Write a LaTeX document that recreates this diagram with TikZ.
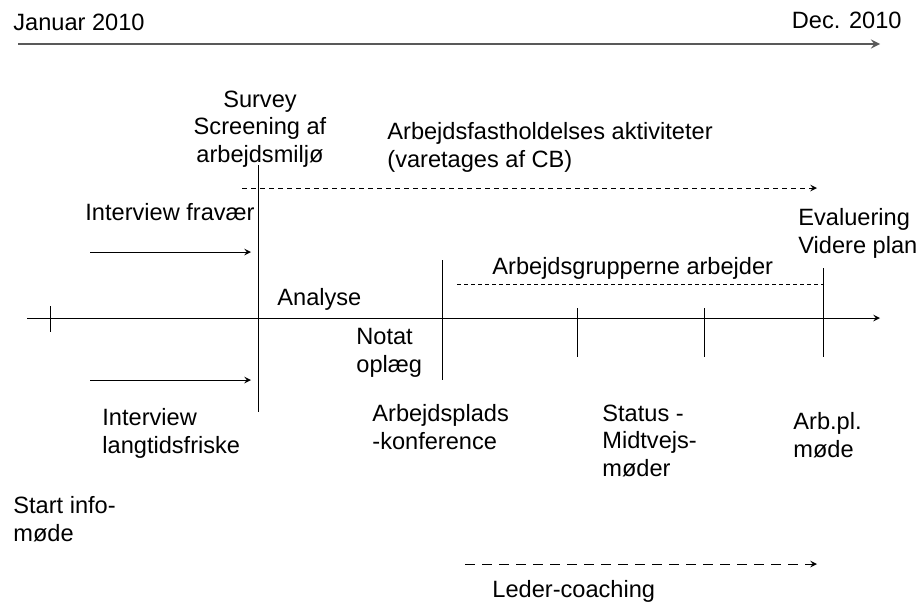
\documentclass[tikz,border=0pt]{standalone}
\usepackage{fontspec}
\setmainfont{Liberation Sans}
\definecolor{periodgray}{HTML}{595959}

\begin{document}
\begin{tikzpicture}[
    x=0.5pt, y=-0.5pt,
    >=stealth,
    every node/.style={font=\fontsize{11.8}{13.75}\selectfont, inner sep=0pt},
    lbl/.style={anchor=base west, align=left},
    marker/.style={line width=0.5pt},
    span/.style={->, line width=0.5pt},
    dashspan/.style={line width=0.5pt, dash pattern=on 2.5pt off 2pt}
]
    \useasboundingbox (0,0) rectangle (920,601);

    % Period
    \node[lbl] (jan) at (13,30) {Januar 2010};
    \node[anchor=base east] (dec) at (902,28) {Dec. 2010};
    \coordinate (per-start) at (18,44);
    \coordinate (per-end) at (880,44);
    \draw[->, periodgray, line width=1pt] (per-start) -- (per-end);

    % Timeline
    \coordinate (ax-start) at (27,318);
    \coordinate (ax-end) at (880,318);
    \draw[span] (ax-start) -- (ax-end);
    \draw[marker] (50,306) -- (50,332);
    \draw[marker] (258,165) -- (258,412);
    \draw[marker] (442,260) -- (442,380);
    \draw[marker] (577,308) -- (577,357);
    \draw[marker] (704,308) -- (704,357);
    \draw[marker] (823,268) -- (823,357);

    % Above the line (base = last line)
    \node[anchor=base, align=center] (survey) at (260,162) {Survey\\Screening af\\arbejdsmiljø};
    \node[lbl] (afh) at (387,167) {Arbejdsfastholdelses aktiviteter\\(varetages af CB)};
    \node[lbl] (fravaer) at (85,220) {Interview fravær};
    \node[lbl] (eval) at (798,253) {Evaluering\\Videre plan};
    \node[lbl] (grupper) at (492,274) {Arbejdsgrupperne arbejder};
    \node[lbl] (analyse) at (277,305) {Analyse};

    % Below the line
    \node[lbl] (notat) at (356,372) {Notat\\oplæg};
    \node[lbl] (langtid) at (102,453) {Interview\\langtidsfriske};
    \node[lbl] (konf) at (372,449) {Arbejdsplads\\-konference};
    \node[lbl] (status) at (602,476) {Status -\\Midtvejs-\\møder};
    \node[lbl] (arbpl) at (793,457) {Arb.pl.\\møde};
    \node[lbl] (startinfo) at (13,541) {Start info-\\møde};
    \node[lbl] (leder) at (492,597) {Leder-coaching};

    % Spans
    \coordinate (afh-start) at (242,188);
    \coordinate (afh-end) at (817,188);
    \draw[dashspan, ->] (afh-start) -- (afh-end);
    \coordinate (grp-start) at (457,284);
    \coordinate (grp-end) at (823,284);
    \draw[line width=0.5pt, dash pattern=on 2pt off 1.5pt] (grp-start) -- (grp-end);
    \coordinate (frv-start) at (90,252);
    \coordinate (frv-end) at (251,252);
    \draw[span] (frv-start) -- (frv-end);
    \coordinate (lt-start) at (90,380);
    \coordinate (lt-end) at (251,380);
    \draw[span] (lt-start) -- (lt-end);
    \coordinate (ld-start) at (465,564);
    \coordinate (ld-end) at (817,564);
    \draw[->, line width=0.5pt, dash pattern=on 5pt off 3.5pt] (ld-start) -- (ld-end);

\end{tikzpicture}
\end{document}
